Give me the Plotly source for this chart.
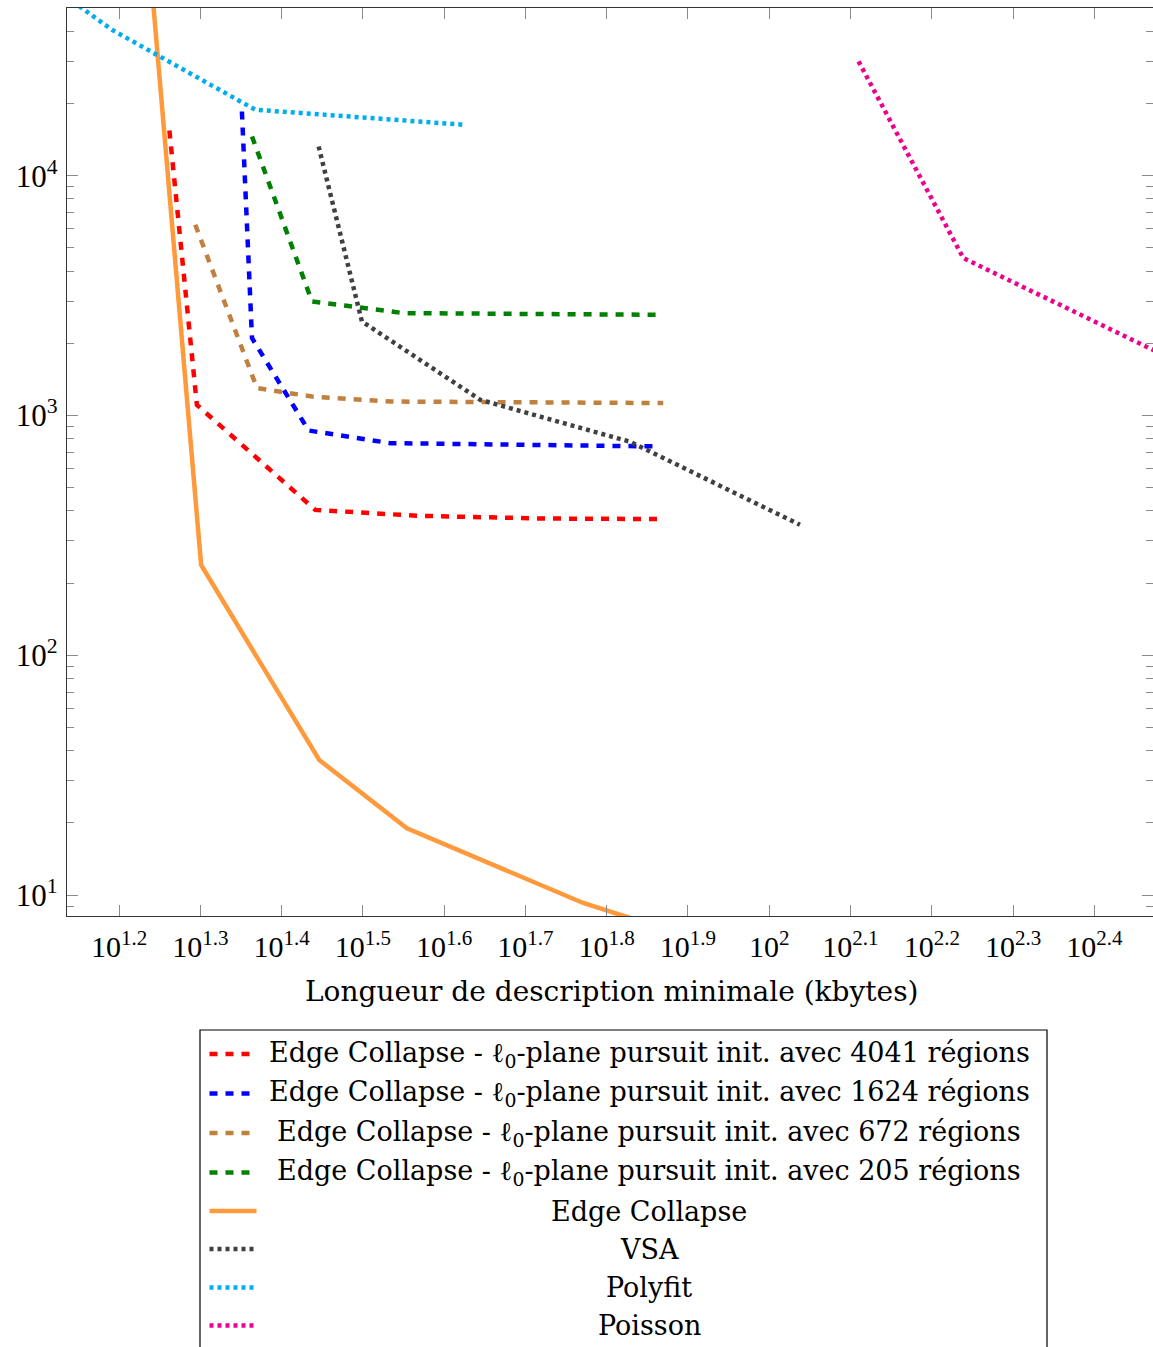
import plotly.graph_objects as go

# ---------------- data (kbytes vs. error) ----------------
red_x = [18.28, 19.76, 27.64, 36.86, 52.5, 74.1]
red_y = [15450, 1108, 404, 382, 372, 370]

blue_x = [22.45, 23.1, 27.12, 34.18, 73.4]
blue_y = [18530, 2103, 866, 767, 743]

brown_x = [19.67, 23.43, 27.38, 34.2, 74.06]
brown_y = [6246, 1301, 1200, 1144, 1127]

green_x = [23.1, 27.38, 30.2, 35.48, 74.06]
green_y = [14590, 2989, 2870, 2674, 2630]

orange_x = [17.18, 20.0, 27.95, 35.83, 59.03, 77.6]
orange_y = [100000, 238, 36.6, 19.0, 9.27, 6.9]

vsa_x = [27.9, 31.54, 44.1, 67.45, 109.1]
vsa_y = [13250, 2468, 1163, 777, 350]

polyfit_x = [12.68, 15.54, 23.32, 42.06]
polyfit_y = [66700, 40600, 18850, 16320]

poisson_x = [128.8, 173.3, 338.8]
poisson_y = [30000, 4537, 1511]

series_names = [
    "Edge Collapse - ℓ<sub>0</sub>-plane pursuit init. avec 4041 régions",
    "Edge Collapse - ℓ<sub>0</sub>-plane pursuit init. avec 1624 régions",
    "Edge Collapse - ℓ<sub>0</sub>-plane pursuit init. avec 672 régions",
    "Edge Collapse - ℓ<sub>0</sub>-plane pursuit init. avec 205 régions",
    "Edge Collapse",
    "VSA",
    "Polyfit",
    "Poisson",
]

x_tick_exps = [1.2, 1.3, 1.4, 1.5, 1.6, 1.7, 1.8, 1.9, 2.0, 2.1, 2.2, 2.3, 2.4]
x_tick_text = ["10<sup>1.2</sup>", "10<sup>1.3</sup>", "10<sup>1.4</sup>", "10<sup>1.5</sup>",
               "10<sup>1.6</sup>", "10<sup>1.7</sup>", "10<sup>1.8</sup>", "10<sup>1.9</sup>",
               "10<sup>2</sup>", "10<sup>2.1</sup>", "10<sup>2.2</sup>", "10<sup>2.3</sup>",
               "10<sup>2.4</sup>"]
y_tick_vals = [10, 100, 1000, 10000]
y_tick_text = ["10<sup>1</sup>", "10<sup>2</sup>", "10<sup>3</sup>", "10<sup>4</sup>"]

x_title = "Longueur de description minimale (kbytes)"

# ---------------- styles ----------------
DASH = "8px,8px"
DOT = "4px,4px"
styles = [
    dict(color="#FF0000", dash=DASH, width=4.5),
    dict(color="#0000FF", dash=DASH, width=4.5),
    dict(color="#BF8040", dash=DASH, width=4.5),
    dict(color="#008000", dash=DASH, width=4.5),
    dict(color="#FF9A3C", dash="solid", width=4.5),
    dict(color="#404040", dash=DOT, width=4.5),
    dict(color="#00AEEF", dash=DOT, width=4.5),
    dict(color="#EC008C", dash=DOT, width=4.5),
]
xs = [red_x, blue_x, brown_x, green_x, orange_x, vsa_x, polyfit_x, poisson_x]
ys = [red_y, blue_y, brown_y, green_y, orange_y, vsa_y, polyfit_y, poisson_y]

W, H = 1153, 1347
L, R, T, B = 67, 0, 8, 431
PW = W - L - R
PH = H - T - B

def px_x(p):
    return (p - L) / PW

def px_y(p):
    return (H - B - p) / PH

fig = go.Figure()
for x, y, st, nm in zip(xs, ys, styles, series_names):
    fig.add_trace(go.Scatter(x=x, y=y, mode="lines", name=nm, line=st,
                             showlegend=False, hoverinfo="skip"))

TEXT_FONT = "DejaVu Serif"
TICK_FONT = "Liberation Serif"

axis_common = dict(
    type="log", showgrid=False, zeroline=False, showline=True,
    linecolor="#333333", linewidth=1.3, mirror="ticks",
    ticks="inside", ticklen=11, tickwidth=1.2, tickcolor="#8a8a8a",
)

fig.update_layout(
    width=W, height=H, autosize=False,
    margin=dict(l=L, r=R, t=T, b=B, pad=0),
    plot_bgcolor="white", paper_bgcolor="white",
    showlegend=False,
    xaxis=dict(
        **axis_common,
        range=[1.136, 2.4722],
        tickmode="array",
        tickvals=[10 ** e for e in x_tick_exps],
        ticktext=x_tick_text,
        tickfont=dict(family=TICK_FONT, size=30, color="black"),
        ticklabelstandoff=4,
    ),
    yaxis=dict(
        **axis_common,
        range=[0.9128, 4.6996],
        tickmode="array",
        tickvals=y_tick_vals,
        ticktext=y_tick_text,
        tickfont=dict(family=TICK_FONT, size=31, color="black"),
        ticklabelstandoff=2,
        minor=dict(
            ticks="inside", ticklen=7, tickwidth=1.1, tickcolor="#8a8a8a",
            tickmode="array",
            tickvals=[m * 10 ** k for k in range(0, 5) for m in range(2, 10)],
            showgrid=False,
        ),
    ),
)

# x-axis title
fig.add_annotation(
    x=px_x(611), y=px_y(991), xref="paper", yref="paper",
    text=x_title, showarrow=False, xanchor="center", yanchor="middle",
    font=dict(family=TEXT_FONT, size=28, color="black"),
)

# ---------------- legend (centered text as in the original) ----------------
fig.add_shape(type="rect", xref="paper", yref="paper",
              x0=px_x(200), x1=px_x(1047), y0=px_y(1030), y1=px_y(1400),
              line=dict(color="black", width=1.2), fillcolor="white", layer="below")

row_px = [1054, 1093.5, 1133, 1172.5, 1211, 1249, 1287.5, 1325.5]
for i, (nm, st) in enumerate(zip(series_names, styles)):
    yy = px_y(row_px[i])
    x_end = 251 if st["dash"] == DASH else 256.5
    fig.add_shape(type="line", xref="paper", yref="paper",
                  x0=px_x(209.5), x1=px_x(x_end), y0=yy, y1=yy,
                  line=dict(color=st["color"], dash=st["dash"], width=4.5))
    fig.add_annotation(
        x=px_x(649), y=yy, xref="paper", yref="paper",
        text=nm, showarrow=False, xanchor="center", yanchor="middle",
        font=dict(family=TEXT_FONT, size=27, color="black"),
    )

fig.write_html(
    "out.html",
    config={"displayModeBar": False},
    post_script="document.body.style.margin='0';document.body.style.overflow='hidden';",
)
